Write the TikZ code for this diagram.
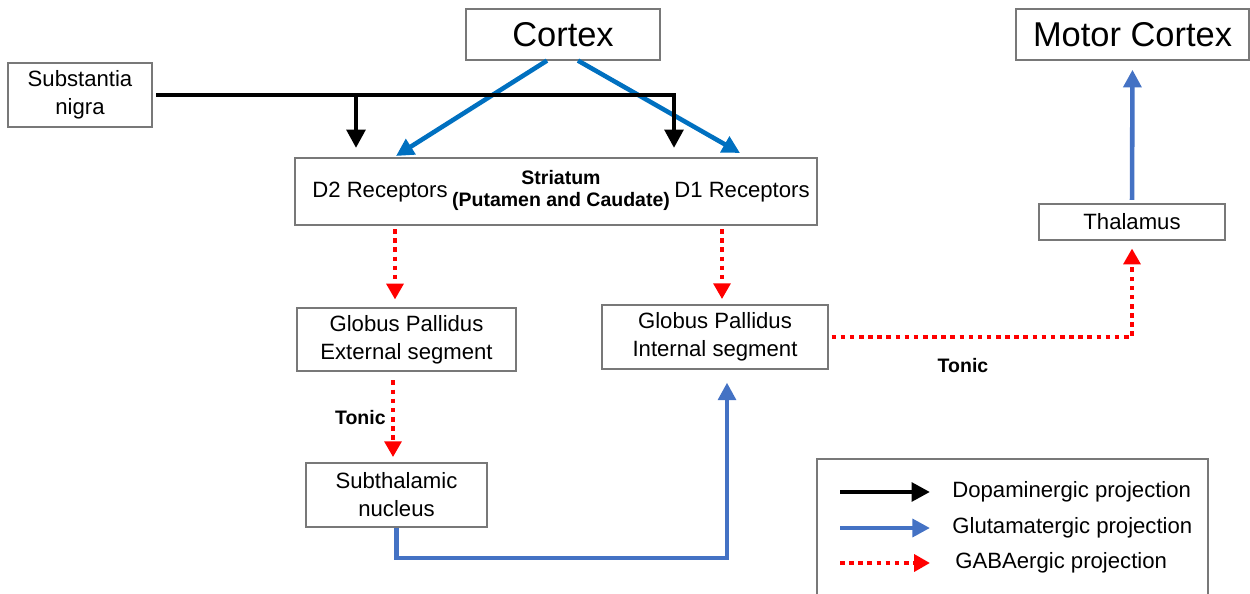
\documentclass[tikz,border=0pt]{standalone}
\usepackage{fontspec}
\setmainfont{Liberation Sans}
\usetikzlibrary{arrows.meta}
\definecolor{ctxblue}{RGB}{0,112,192}
\definecolor{glublue}{RGB}{68,114,196}
\definecolor{gabared}{RGB}{255,0,0}
\definecolor{boxgray}{RGB}{120,120,120}
\begin{document}
\begin{tikzpicture}[x=0.02cm,y=-0.02cm,
  box/.style={draw=boxgray, line width=0.7pt, inner sep=0pt, align=center, font=\fontsize{12.6}{15.9}\selectfont},
  bigbox/.style={box, font=\fontsize{19.6}{23}\selectfont},
  lab/.style={inner sep=0pt, font=\fontsize{12.6}{15.9}\selectfont},
  boldlab/.style={inner sep=0pt, align=center, font=\fontsize{11.1}{12.5}\selectfont\bfseries},
  dopa/.style={line width=2.6pt, -{Triangle[length=10.5pt,width=10.5pt]}},
  glu/.style={draw=glublue, line width=2.6pt, -{Triangle[length=10pt,width=10pt]}},
  ctx/.style={glu, draw=ctxblue},
  gaba/.style={draw=gabared, line width=2.6pt, dash pattern=on 2.6pt off 2.6pt, -{Triangle[length=9pt,width=9.5pt]}}]
\useasboundingbox (0,0) rectangle (1250,594);
\node[bigbox, minimum width=3.88cm, minimum height=1.02cm] (cortex) at (563,34.5) {Cortex};
\node[bigbox, minimum width=4.66cm, minimum height=1.02cm] (motor) at (1132.5,34.5) {Motor Cortex};
\node[box, minimum width=2.88cm, minimum height=1.28cm] (sn) at (80,95) {Substantia\\nigra};
\node[box, minimum width=10.44cm, minimum height=1.34cm] (striatum) at (556,191.5) {};
\node[lab] (d2lab) at (380,192) {D2 Receptors};
\node[boldlab] (strlab) at (561,190.5) {Striatum\\(Putamen and Caudate)};
\node[lab] (d1lab) at (742,192) {D1 Receptors};
\node[box, minimum width=3.72cm, minimum height=0.72cm] (thal) at (1132,222) {Thalamus};
\node[box, minimum width=4.38cm, minimum height=1.26cm] (gpe) at (406.5,339.5) {Globus Pallidus\\External segment};
\node[box, minimum width=4.52cm, minimum height=1.28cm] (gpi) at (715,337) {Globus Pallidus\\Internal segment};
\node[box, minimum width=3.62cm, minimum height=1.28cm] (stn) at (396.5,495) {Subthalamic\\nucleus};
\node[boldlab, anchor=east] (tonic1) at (386,418) {Tonic};
\node[boldlab] (tonic2) at (963,366) {Tonic};
\node[box, minimum width=7.82cm, minimum height=2.76cm] (legend) at (1012.5,528) {};
\node[lab, anchor=west] (ldopa) at (952,492) {Dopaminergic projection};
\node[lab, anchor=west] (lglu) at (952,528) {Glutamatergic projection};
\node[lab, anchor=west] (lgaba) at (955,563) {GABAergic projection};
\coordinate (d2in) at (396,156);
\coordinate (d1in) at (740,153);
\coordinate (snd2) at (356,148);
\coordinate (snd1) at (674,148);
\coordinate (stnout) at (727,558);
\draw[ctx] ([xshift=-0.32cm]cortex.south) -- (d2in);
\draw[ctx] ([xshift=0.3cm]cortex.south) -- (d1in);
\draw[dopa, shorten <=2pt] (sn.east) -| (snd1);
\draw[dopa] (snd2 |- sn.east) -- (snd2);
\draw[gaba, shorten <=2pt, shorten >=4.5pt] ([xshift=-0.23cm]gpe.north |- striatum.south) -- ([xshift=-0.23cm]gpe.north);
\draw[gaba, shorten <=2pt, shorten >=3pt] ([xshift=0.14cm]gpi.north |- striatum.south) -- ([xshift=0.14cm]gpi.north);
\draw[gaba, shorten <=5pt, shorten >=3pt] ([xshift=-0.07cm]stn.north |- gpe.south) -- ([xshift=-0.07cm]stn.north);
\draw[gaba, shorten <=1.7pt, shorten >=4.5pt] (gpi.east) -| (thal.south);
\draw[glu, shorten <=2pt, shorten >=5.2pt] (thal.north) -- (motor.south);
\draw[glu, shorten >=7.4pt] (stn.south) |- (stnout) -- (stnout |- gpi.south);
\draw[dopa] ([xshift=-2.24cm]ldopa.west) -- ([xshift=-0.44cm]ldopa.west);
\draw[glu] ([xshift=-2.24cm]lglu.west) -- ([xshift=-0.44cm]lglu.west);
\draw[gaba] ([xshift=-2.3cm]lgaba.west) -- ([xshift=-0.5cm]lgaba.west);
\end{tikzpicture}
\end{document}
